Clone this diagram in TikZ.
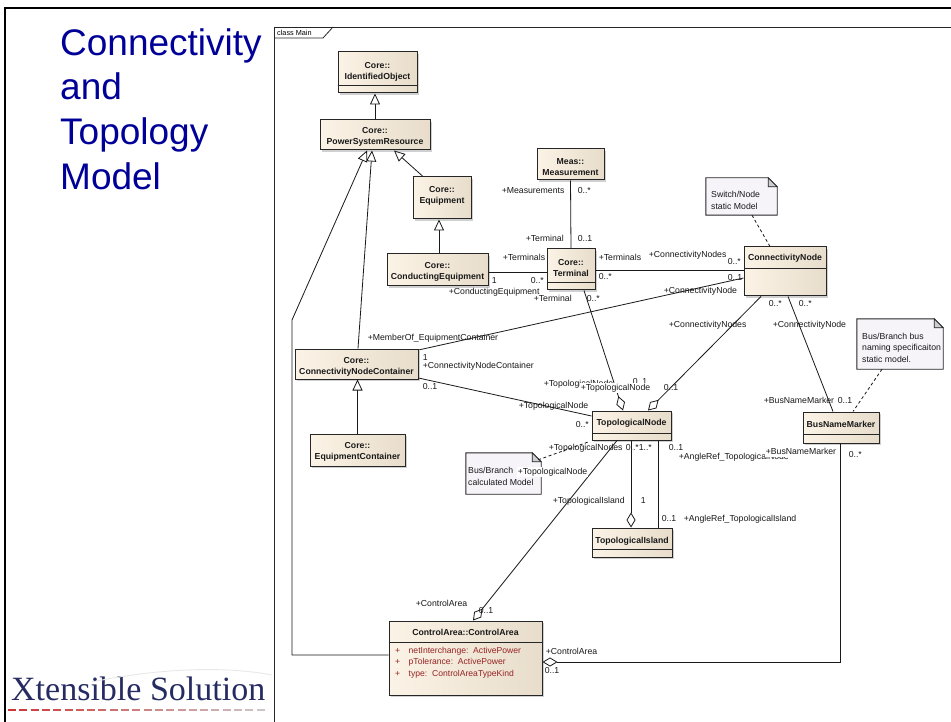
\documentclass[tikz,border=0pt]{standalone}
\usepackage{fontspec}
\setmainfont{Liberation Sans}
\newfontfamily\logofont{Liberation Serif}
\usetikzlibrary{arrows.meta,shadows}

\definecolor{clsA}{RGB}{251,243,230}
\definecolor{clsB}{RGB}{232,221,203}
\definecolor{noteFill}{RGB}{246,243,249}
\definecolor{foldFill}{RGB}{205,205,212}
\definecolor{titleBlue}{RGB}{0,0,153}
\definecolor{attrRed}{RGB}{150,35,35}
\definecolor{logoNavy}{RGB}{38,44,98}

\newcommand\lblfont{\fontsize{8.7}{10}\selectfont}
\newcommand\clsfont{\bfseries\fontsize{8.7}{11}\selectfont}
\newcommand\notefont{\fontsize{8.7}{11.5}\selectfont}

\tikzset{
  cls/.style={draw=black!85, line width=1pt, rectangle, inner sep=0pt,
    left color=clsA, right color=clsB,
    drop shadow={shadow xshift=2pt, shadow yshift=-2pt, fill=black!30, opacity=0.6}},
  clstext/.style={font=\clsfont, align=center, inner sep=0pt, text=black!90},
  compart/.style={draw=black!85, line width=0.8pt},
  notebg/.style={draw=none, inner sep=0pt, rectangle},
  noteline/.style={draw=black!85, line width=0.9pt, fill=noteFill},
  notefold/.style={draw=black!85, line width=0.8pt, fill=foldFill},
  notetext/.style={font=\notefont, align=left, anchor=west, inner sep=0pt, text=black!90},
  lbl/.style={font=\lblfont, anchor=west, inner sep=0.6pt, text height=6.3pt,
    text depth=1.8pt, text=black!90},
  wlbl/.style={lbl, fill=white},
  assoc/.style={draw=black!90, line width=0.8pt},
  inh/.style={assoc, -{Triangle[length=11pt,width=10pt,fill=white]}},
  agg/.style={assoc, -{Diamond[length=15pt,width=9pt,fill=white]}},
  notelink/.style={draw=black!90, line width=0.8pt, dash pattern=on 3pt off 2.5pt},
}

\begin{document}
\begin{tikzpicture}[x=1pt,y=-1pt]
\useasboundingbox (0,0) rectangle (951,722);
\fill[white] (0,0) rectangle (951,722);

% slide border
\draw[line width=2pt, black] (5,722) -- (5,8) -- (951,8);

% slide title
\node[anchor=north west, inner sep=0pt, align=left,
  font=\fontsize{37}{44.7}\selectfont, text=titleBlue] (title) at (60,28)
  {Connectivity\\and\\Topology\\Model};

% company logo
\node[anchor=base west, inner sep=0pt, font=\logofont\fontsize{34}{36}\selectfont,
  text=logoNavy] (logo) at (11,700) {Xtensible Solution};
\draw[black!9, line width=0.9pt] (92,682) .. controls (160,668) and (225,666) .. (272,675);
\foreach \i [evaluate=\i as \g using int(55+6.5*\i)] in {0,...,22}
  \draw[line width=2.4pt, color={rgb,255:red,205;green,\g;blue,\g}]
    ({8+\i*11.3},710) -- ++(8,0);

% diagram frame with its tab
\draw[line width=0.8pt, black!85] (274,722) -- (274,27) -- (951,27);
\draw[line width=0.8pt, black!85] (274,38) -- (323,38) -- (333,27);
\node[anchor=west, inner sep=0pt, font=\fontsize{7.3}{8}\selectfont] (frametag) at (277,32.5) {class Main};

% ---------------- classes ----------------
\node[cls, minimum width=79pt, minimum height=41pt] (io) at (377.5,72.5) {};
\draw[compart] ([yshift=-34pt]io.north west) -- ([yshift=-34pt]io.north east);
\node[clstext] (iot) at (377.5,71.5) {Core::\\IdentifiedObject};

\node[cls, minimum width=110pt, minimum height=30pt] (psr) at (375,135) {};
\node[clstext] (psrt) at (375,137) {Core::\\PowerSystemResource};

\node[cls, minimum width=58pt, minimum height=42pt] (eq) at (442,198) {};
\node[clstext] (eqt) at (442,196) {Core::\\Equipment};

\node[cls, minimum width=101pt, minimum height=32pt] (ce) at (437.5,270) {};
\node[clstext] (cet) at (437.5,272) {Core::\\ConductingEquipment};

\node[cls, minimum width=123pt, minimum height=30pt] (cnc) at (356.5,364) {};
\node[clstext] (cnct) at (356.5,367) {Core::\\ConnectivityNodeContainer};

\node[cls, minimum width=95pt, minimum height=32pt] (ec) at (357.5,450) {};
\node[clstext] (ect) at (357.5,452) {Core::\\EquipmentContainer};

\node[cls, minimum width=67pt, minimum height=31pt] (meas) at (570.5,164.5) {};
\node[clstext] (meast) at (570.5,167.5) {Meas::\\Measurement};

\node[cls, minimum width=48pt, minimum height=41pt] (term) at (571,269.5) {};
\draw[compart] ([yshift=-34pt]term.north west) -- ([yshift=-34pt]term.north east);
\node[clstext] (termt) at (571,268) {Core::\\Terminal};

\node[cls, minimum width=82pt, minimum height=49pt] (cn) at (785,271.5) {};
\draw[compart] ([yshift=-22pt]cn.north west) -- ([yshift=-22pt]cn.north east);
\node[clstext] (cnt) at (785,258.5) {ConnectivityNode};

\node[cls, minimum width=79pt, minimum height=29pt] (tn) at (631.5,425.5) {};
\draw[compart] ([yshift=-23pt]tn.north west) -- ([yshift=-23pt]tn.north east);
\node[clstext] (tnt) at (631.5,423) {TopologicalNode};

\node[cls, minimum width=80pt, minimum height=29pt] (ti) at (632,542.5) {};
\draw[compart] ([yshift=-22pt]ti.north west) -- ([yshift=-22pt]ti.north east);
\node[clstext] (tit) at (632,541) {TopologicalIsland};

\node[cls, minimum width=76pt, minimum height=31pt] (bnm) at (841,427.5) {};
\draw[compart] ([yshift=-23pt]bnm.north west) -- ([yshift=-23pt]bnm.north east);
\node[clstext] (bnmt) at (841,424) {BusNameMarker};

\node[cls, minimum width=153pt, minimum height=74pt] (ca) at (465.5,658) {};
\draw[compart] ([yshift=-22pt]ca.north west) -- ([yshift=-22pt]ca.north east);
\node[clstext] (cat) at (465.5,632) {ControlArea::ControlArea};
\node[anchor=west, inner sep=0pt, align=left, font=\fontsize{8.6}{11.5}\selectfont,
  text=attrRed] (caattr) at (395,662.5)
  {\makebox[13.5pt][l]{+}netInterchange:\ \ ActivePower\\
   \makebox[13.5pt][l]{+}pTolerance:\ \ ActivePower\\
   \makebox[13.5pt][l]{+}type:\ \ ControlAreaTypeKind};

% ---------------- notes ----------------
\node[notebg, minimum width=71pt, minimum height=37pt] (n1) at (741.5,196.5) {};
\draw[noteline] (n1.north west) -- ([xshift=-9pt]n1.north east) -- ([yshift=-9pt]n1.north east)
  -- (n1.south east) -- (n1.south west) -- cycle;
\draw[notefold] ([xshift=-9pt]n1.north east) -- ([xshift=-9pt,yshift=-9pt]n1.north east)
  -- ([yshift=-9pt]n1.north east) -- cycle;
\node[notetext] (n1t) at (711,200.5) {Switch/Node\\static Model};

\node[notebg, minimum width=86pt, minimum height=50pt] (n2) at (900,344) {};
\draw[noteline] (n2.north west) -- ([xshift=-9pt]n2.north east) -- ([yshift=-9pt]n2.north east)
  -- (n2.south east) -- (n2.south west) -- cycle;
\draw[notefold] ([xshift=-9pt]n2.north east) -- ([xshift=-9pt,yshift=-9pt]n2.north east)
  -- ([yshift=-9pt]n2.north east) -- cycle;
\node[notetext] (n2t) at (862,347.5) {Bus/Branch bus\\naming specificaiton\\static model.};

\node[notebg, minimum width=75pt, minimum height=41pt] (n3) at (503.5,473.5) {};
\draw[noteline] (n3.north west) -- ([xshift=-9pt]n3.north east) -- ([yshift=-9pt]n3.north east)
  -- (n3.south east) -- (n3.south west) -- cycle;
\draw[notefold] ([xshift=-9pt]n3.north east) -- ([xshift=-9pt,yshift=-9pt]n3.north east)
  -- ([yshift=-9pt]n3.north east) -- cycle;
\node[notetext] (n3t) at (468,476.5) {Bus/Branch\\calculated Model};

% ---------------- generalizations ----------------
\coordinate (bendA) at (292,655);
\coordinate (bendB) at (292,320);
\coordinate (bendC) at (840,662);

\draw[inh] (psr.north) -- ([xshift=-2.5pt]io.south);
\draw[inh] ([xshift=-19pt]eq.north) -- ([xshift=19pt]psr.south);
\draw[inh] ([xshift=1.5pt]ce.north) -- ([xshift=-3pt]eq.south);
\draw[inh] ([xshift=1.5pt]cnc.north) -- ([xshift=-3pt]psr.south);
\draw[inh] ([yshift=3pt]ca.west) -- (bendA) -- (bendB) -- ([xshift=-8pt]psr.south);
\draw[inh] (ec.north) -- (ec.north |- cnc.south);

% ---------------- associations ----------------
\draw[assoc] (meas.south) -- (term.north);
\draw[assoc] ([yshift=-2pt]ce.east) -- ([yshift=-2.5pt]term.west);
\draw[assoc] ([yshift=-0.5pt]term.east) -- ([yshift=1.5pt]cn.west);
\draw[assoc] ([yshift=14pt]cnc.east) -- ([yshift=-6.5pt]cn.west);
\draw[assoc] ([yshift=-14pt]cnc.east) -- ([yshift=9.5pt]tn.west);
\draw[agg] ([xshift=13pt]term.south) -- ([xshift=-8.5pt]tn.north);
\draw[agg] ([xshift=-24pt]cn.south) -- ([xshift=16.5pt]tn.north);
\draw[assoc] ([xshift=3pt]cn.south) -- ([xshift=-8pt]bnm.north);
\draw[agg] ([xshift=-0.5pt]tn.south) -- ([xshift=-1pt]ti.north);
\draw[assoc] ([xshift=26.5pt]tn.south) -- ([xshift=26pt]ti.north);
\draw[agg] ([xshift=-14.5pt]tn.south) -- ([xshift=7.5pt]ca.north);
\draw[agg] ([xshift=-1pt]bnm.south) -- (bendC) -- ([yshift=-4pt]ca.east);

% ---------------- note links ----------------
\draw[notelink] ([xshift=10.5pt]n1.south) -- ([xshift=-15pt]cn.north);
\draw[notelink] ([xshift=-18pt]n2.south) -- ([xshift=12pt]bnm.north);
\draw[notelink] ([xshift=-3pt,yshift=-7pt]n3.north east) -- ([xshift=-2pt,yshift=-1pt]tn.south west);

% ---------------- role names and multiplicities ----------------
\node[lbl] (lm1) at (501,191) {+Measurements};
\node[lbl] (lm2) at (577,191) {0..*};
\node[lbl] (lm3) at (525,239) {+Terminal};
\node[lbl] (lm4) at (577,239) {0..1};

\node[lbl] (lc1) at (502,258) {+Terminals};
\node[lbl] (lc2) at (491,281) {1};
\node[lbl] (lc3) at (530,281) {0..*};
\node[lbl] (lc4) at (448,292) {+ConductingEquipment};

\node[lbl] (lt1) at (533,299) {+Terminal};
\node[lbl] (lt2) at (586,299) {0..*};

\node[lbl] (lk1) at (598,258) {+Terminals};
\node[lbl] (lk2) at (598,277) {0..*};
\node[lbl] (lk3) at (648,255) {+ConnectivityNodes};
\node[lbl] (lk4) at (727,262) {0..*};

\node[lbl] (lq1) at (367,338) {+MemberOf\_EquipmentContainer};
\node[lbl] (lq2) at (422,358) {1};
\node[lbl] (lq3) at (422,366) {+ConnectivityNodeContainer};
\node[lbl] (lq4) at (727,278) {0..1};
\node[lbl] (lq5) at (663,291) {+ConnectivityNode};

\node[lbl] (lr1) at (422,387) {0..1};
\node[lbl] (lr2) at (518,406) {+TopologicalNode};
\node[lbl] (lr3) at (575,425) {0..*};

\node[lbl] (ls1) at (768,304) {0..*};
\node[lbl] (ls2) at (798,304) {0..*};
\node[lbl] (ls3) at (668,325) {+ConnectivityNodes};
\node[lbl] (ls4) at (772,325) {+ConnectivityNode};

\node[lbl] (lu1) at (543,384) {+TopologicalNode};
\node[lbl] (lu2) at (632,382) {0..1};
\node[wlbl] (lu3) at (580,388) {+TopologicalNode};
\node[lbl] (lu4) at (663,388) {0..1};

\node[lbl] (lb1) at (763,401) {+BusNameMarker};
\node[lbl] (lb2) at (837,401) {0..1};

\node[lbl] (lv1) at (548,448) {+TopologicalNodes};
\node[lbl] (lv2) at (625,448) {0..*};
\node[lbl] (lv3) at (638,448) {1..*};
\node[lbl] (lv4) at (668,448) {0..1};
\node[lbl] (lv5) at (678,457) {+AngleRef\_TopologicalNode};
\node[wlbl] (lb3) at (765,452) {+BusNameMarker};
\node[lbl] (lb4) at (848,455) {0..*};
\node[wlbl] (lv6) at (517,472) {+TopologicalNode};
\node[lbl] (lv7) at (552,501) {+TopologicalIsland};
\node[lbl] (lv8) at (640,501) {1};
\node[lbl] (lv9) at (661,519) {0..1};
\node[lbl] (lv10) at (683,519) {+AngleRef\_TopologicalIsland};

\node[lbl] (la1) at (415,604) {+ControlArea};
\node[lbl] (la2) at (478,611) {0..1};
\node[lbl] (la3) at (545,652) {+ControlArea};
\node[lbl] (la4) at (544,671) {0..1};
\end{tikzpicture}
\end{document}
